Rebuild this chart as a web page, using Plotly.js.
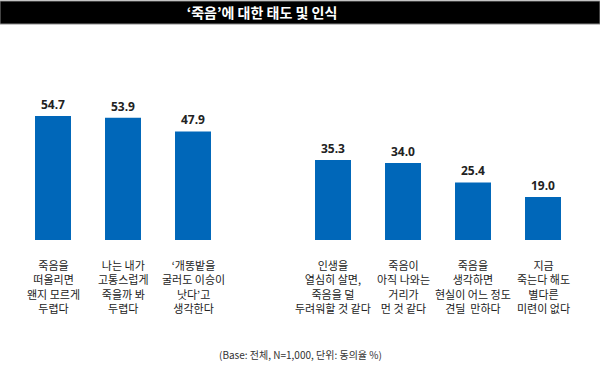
<!DOCTYPE html>
<html><head><meta charset="utf-8">
<script src="https://cdn.plot.ly/plotly-3.0.1.min.js"></script>
<style>html,body{margin:0;padding:0;background:#fff}#c{width:600px;height:368px}</style>
</head><body><div id="c"></div>
<script>
const categories = [
  "죽음을<br>떠올리면<br>왠지 모르게<br>두렵다",
  "나는 내가<br>고통스럽게<br>죽을까 봐<br>두렵다",
  "‘개똥밭을<br>굴러도 이승이<br>낫다’고<br>생각한다",
  "",
  "인생을<br>열심히 살면,<br>죽음을 덜<br>두려워할 것 같다",
  "죽음이<br>아직 나와는<br>거리가<br>먼 것 같다",
  "죽음을<br>생각하면<br>현실이 어느 정도<br>견딜  만하다",
  "지금<br>죽는다 해도<br>별다른<br>미련이 없다"
];
const values = [54.7, 53.9, 47.9, null, 35.3, 34.0, 25.4, 19.0];
const titleText = "‘죽음’에 대한 태도 및 인식";
const footText = "(Base: 전체, N=1,000, 단위: 동의율 %)";

const xs = [], ys = [], txt = [];
values.forEach((v, i) => { if (v !== null) { xs.push(i); ys.push(v); txt.push(v.toFixed(1)); } });

const annotations = categories.map((c, i) => ({
  x: i, y: -6.8, xref: 'x', yref: 'y', text: c, showarrow: false,
  xanchor: 'center', yanchor: 'top', align: 'center',
  font: {family: 'Noto Sans CJK KR', size: 11, color: '#222'}
})).filter(a => a.text !== "");
annotations.push({
  x: 0.5, y: 1 - 354/368, xref: 'paper', yref: 'paper', yanchor: 'middle', xanchor: 'center',
  text: footText, showarrow: false, font: {family: 'Noto Sans CJK KR', size: 10, color: '#333'}
});

Plotly.newPlot('c', [{
  type: 'bar', x: xs, y: ys, text: txt, textposition: 'outside', cliponaxis: false,
  width: 0.514, marker: {color: '#0067b9'},
  textfont: {family: 'Noto Sans', size: 12, color: '#222', weight: 'bold'},
  hoverinfo: 'none'
}], {
  width: 600, height: 368,
  margin: {l: 0, r: 0, t: 0, b: 0},
  paper_bgcolor: '#fff', plot_bgcolor: '#fff',
  showlegend: false,
  xaxis: {range: [-53/70, 547/70], showgrid: false, zeroline: false, showticklabels: false, showline: false, fixedrange: true},
  yaxis: {range: [-128/2.267, 240/2.267], showgrid: false, zeroline: false, showticklabels: false, showline: false, fixedrange: true},
  title: {text: titleText, x: 262/600, xanchor: 'center', y: 1 - 13/368, yanchor: 'middle', font: {family: 'Noto Sans CJK KR', size: 14, color: '#fff', weight: 'bold'}},
  shapes: [{type: 'rect', xref: 'paper', yref: 'paper', x0: 0, x1: 1, y0: 1 - 24/368, y1: 1 - 1/368, fillcolor: '#000', line: {color: '#888', width: 1}, layer: 'below'}],
  annotations: annotations
}, {staticPlot: true});
</script></body></html>
